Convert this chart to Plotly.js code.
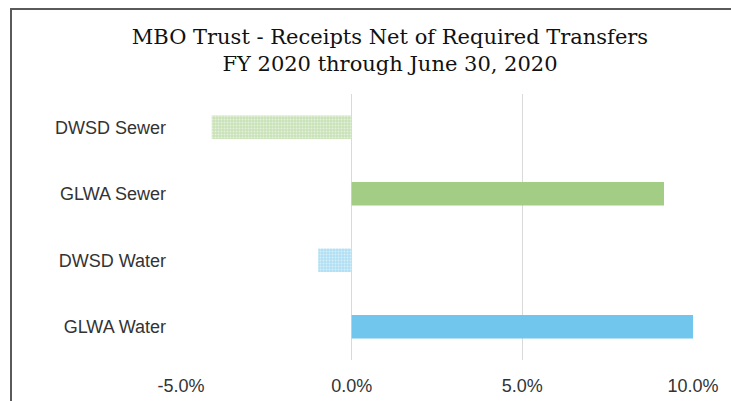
<!DOCTYPE html>
<html>
<head>
<meta charset="utf-8">
<script src="https://cdn.plot.ly/plotly-3.0.1.min.js"></script>
<style>
  html, body { margin: 0; padding: 0; background: #ffffff; }
  #chart { position: absolute; left: 0; top: 0; width: 731px; height: 401px; }
  #frame { position: absolute; left: 10px; top: 8px; width: 900px; height: 600px;
           border-left: 2px solid #5a5a5a; border-top: 2px solid #5a5a5a; pointer-events: none; }
</style>
</head>
<body>
<div id="chart"></div>
<div id="frame"></div>
<script>
// Categories listed top to bottom as in the chart
const categories = ["DWSD Sewer", "GLWA Sewer", "DWSD Water", "GLWA Water"];
// Receipts net of required transfers (fraction)
const values = [-0.041, 0.0915, -0.0098, 0.100];
const barColors = ["#c9e2b8", "#a3cc85", "#b0dff4", "#70c6ec"];
const patterned = [true, false, true, false];
const tickVals = [-0.05, 0, 0.05, 0.10];
const tickText = ["-5.0%", "0.0%", "5.0%", "10.0%"];

const traces = categories.map((cat, i) => {
  const marker = { color: barColors[i], line: { width: 0 } };
  if (patterned[i]) {
    marker.pattern = {
      shape: ".",
      bgcolor: barColors[i],
      fgcolor: "#ffffff",
      fgopacity: 0.5,
      size: 3,
      solidity: 0.35,
      fillmode: "replace"
    };
  }
  return {
    type: "bar",
    orientation: "h",
    y: [cat],
    x: [values[i]],
    width: 0.35,
    marker: marker,
    hoverinfo: "skip"
  };
});

const layout = {
  width: 731,
  height: 401,
  margin: { l: 181, r: 38, t: 94, b: 41 },
  paper_bgcolor: "#ffffff",
  plot_bgcolor: "#ffffff",
  showlegend: false,
  barmode: "overlay",
  title: {
    text: "MBO Trust - Receipts Net of Required Transfers<br>FY 2020 through June 30, 2020",
    font: { family: "DejaVu Serif", size: 21, color: "#111111" },
    x: 0.5335, xref: "container", xanchor: "center",
    y: 0.89, yref: "container", yanchor: "top"
  },
  xaxis: {
    range: [-0.05, 0.10],
    tickvals: tickVals,
    ticktext: tickText,
    ticks: "",
    showline: false,
    showgrid: true,
    gridcolor: "#d9d9d9",
    gridwidth: 1.5,
    zeroline: true,
    zerolinecolor: "#d9d9d9",
    zerolinewidth: 1.5,
    ticklabelstandoff: 13,
    tickfont: { family: "Liberation Sans, Arial", size: 18, color: "#333333" },
    fixedrange: true
  },
  yaxis: {
    type: "category",
    categoryorder: "array",
    categoryarray: categories,
    autorange: "reversed",
    ticks: "",
    showline: false,
    showgrid: false,
    zeroline: false,
    ticklabelstandoff: 14,
    tickfont: { family: "Liberation Sans, Arial", size: 18, color: "#333333" },
    fixedrange: true
  }
};

Plotly.newPlot("chart", traces, layout, { displayModeBar: false, staticPlot: true });
</script>
</body>
</html>
